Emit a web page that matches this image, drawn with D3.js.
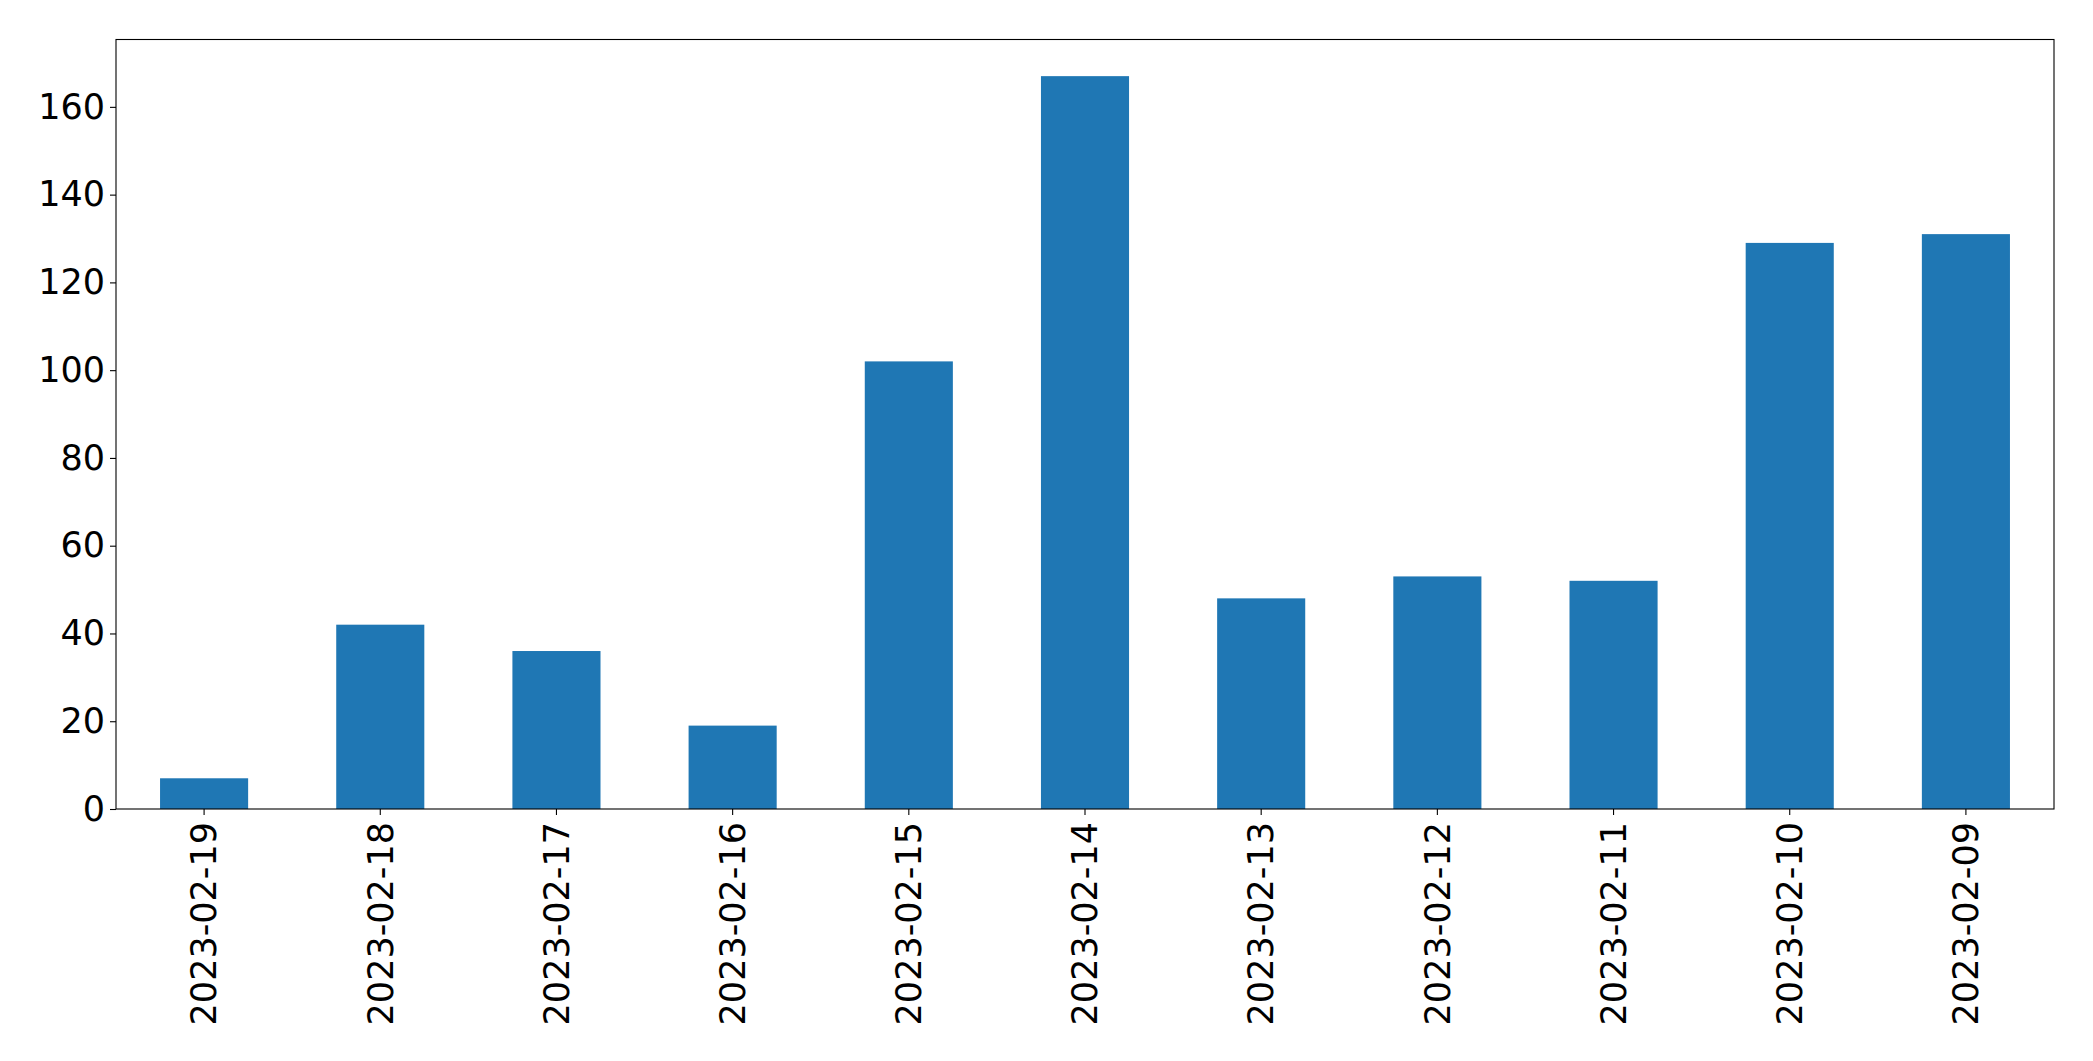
<!DOCTYPE html>
<html>
<head>
<meta charset="utf-8">
<script src="https://cdn.jsdelivr.net/npm/d3@7"></script>
<style>
  html, body { margin: 0; padding: 0; background: #fff; }
  svg { display: block; }
</style>
</head>
<body>
<svg id="chart" width="2093" height="1061"></svg>
<script>
const categories = ["2023-02-19","2023-02-18","2023-02-17","2023-02-16","2023-02-15","2023-02-14","2023-02-13","2023-02-12","2023-02-11","2023-02-10","2023-02-09"];
const values = [7, 42, 36, 19, 102, 167, 48, 53, 52, 129, 131];
const yTicks = [0, 20, 40, 60, 80, 100, 120, 140, 160];

const W = 2093, H = 1061;
const margin = { left: 116, right: W - 2054, top: 39.5, bottom: H - 809 };
const svg = d3.select("#chart");
const iw = W - margin.left - margin.right;
const ih = H - margin.top - margin.bottom;
const g = svg.append("g").attr("transform", `translate(${margin.left},${margin.top})`);

const x = d3.scaleBand().domain(categories).range([0, iw]).paddingInner(0.5).paddingOuter(0.25);
const y = d3.scaleLinear().domain([0, d3.max(values) * 1.05]).range([ih, 0]);

g.selectAll("rect.bar").data(values).join("rect")
  .attr("class", "bar")
  .attr("x", (d, i) => x(categories[i]))
  .attr("width", x.bandwidth())
  .attr("y", d => y(d))
  .attr("height", d => y(0) - y(d))
  .attr("fill", "#1f77b4");

const fontSize = "35px";
const font = "'DejaVu Sans', sans-serif";

const yAxis = g.append("g").call(d3.axisLeft(y).tickValues(yTicks).tickSize(6).tickPadding(5).tickFormat(d3.format("d")));
yAxis.select(".domain").remove();
yAxis.selectAll("line").attr("stroke", "#000").attr("stroke-width", 1.1);
yAxis.selectAll("text").style("font-size", fontSize).style("font-family", font).attr("fill", "#000");

const xAxis = g.append("g").attr("transform", `translate(0,${ih})`)
  .call(d3.axisBottom(x).tickSize(6).tickPadding(7));
xAxis.select(".domain").remove();
xAxis.selectAll("line").attr("stroke", "#000").attr("stroke-width", 1.1);
xAxis.selectAll("text")
  .style("font-size", fontSize).style("font-family", font).attr("fill", "#000")
  .attr("text-anchor", "end")
  .attr("transform", "rotate(-90)")
  .attr("x", -13)
  .attr("y", 0)
  .attr("dy", "0.35em");

g.append("rect").attr("x", 0).attr("y", 0).attr("width", iw).attr("height", ih)
  .attr("fill", "none").attr("stroke", "#000").attr("stroke-width", 1.1);
</script>
</body>
</html>
